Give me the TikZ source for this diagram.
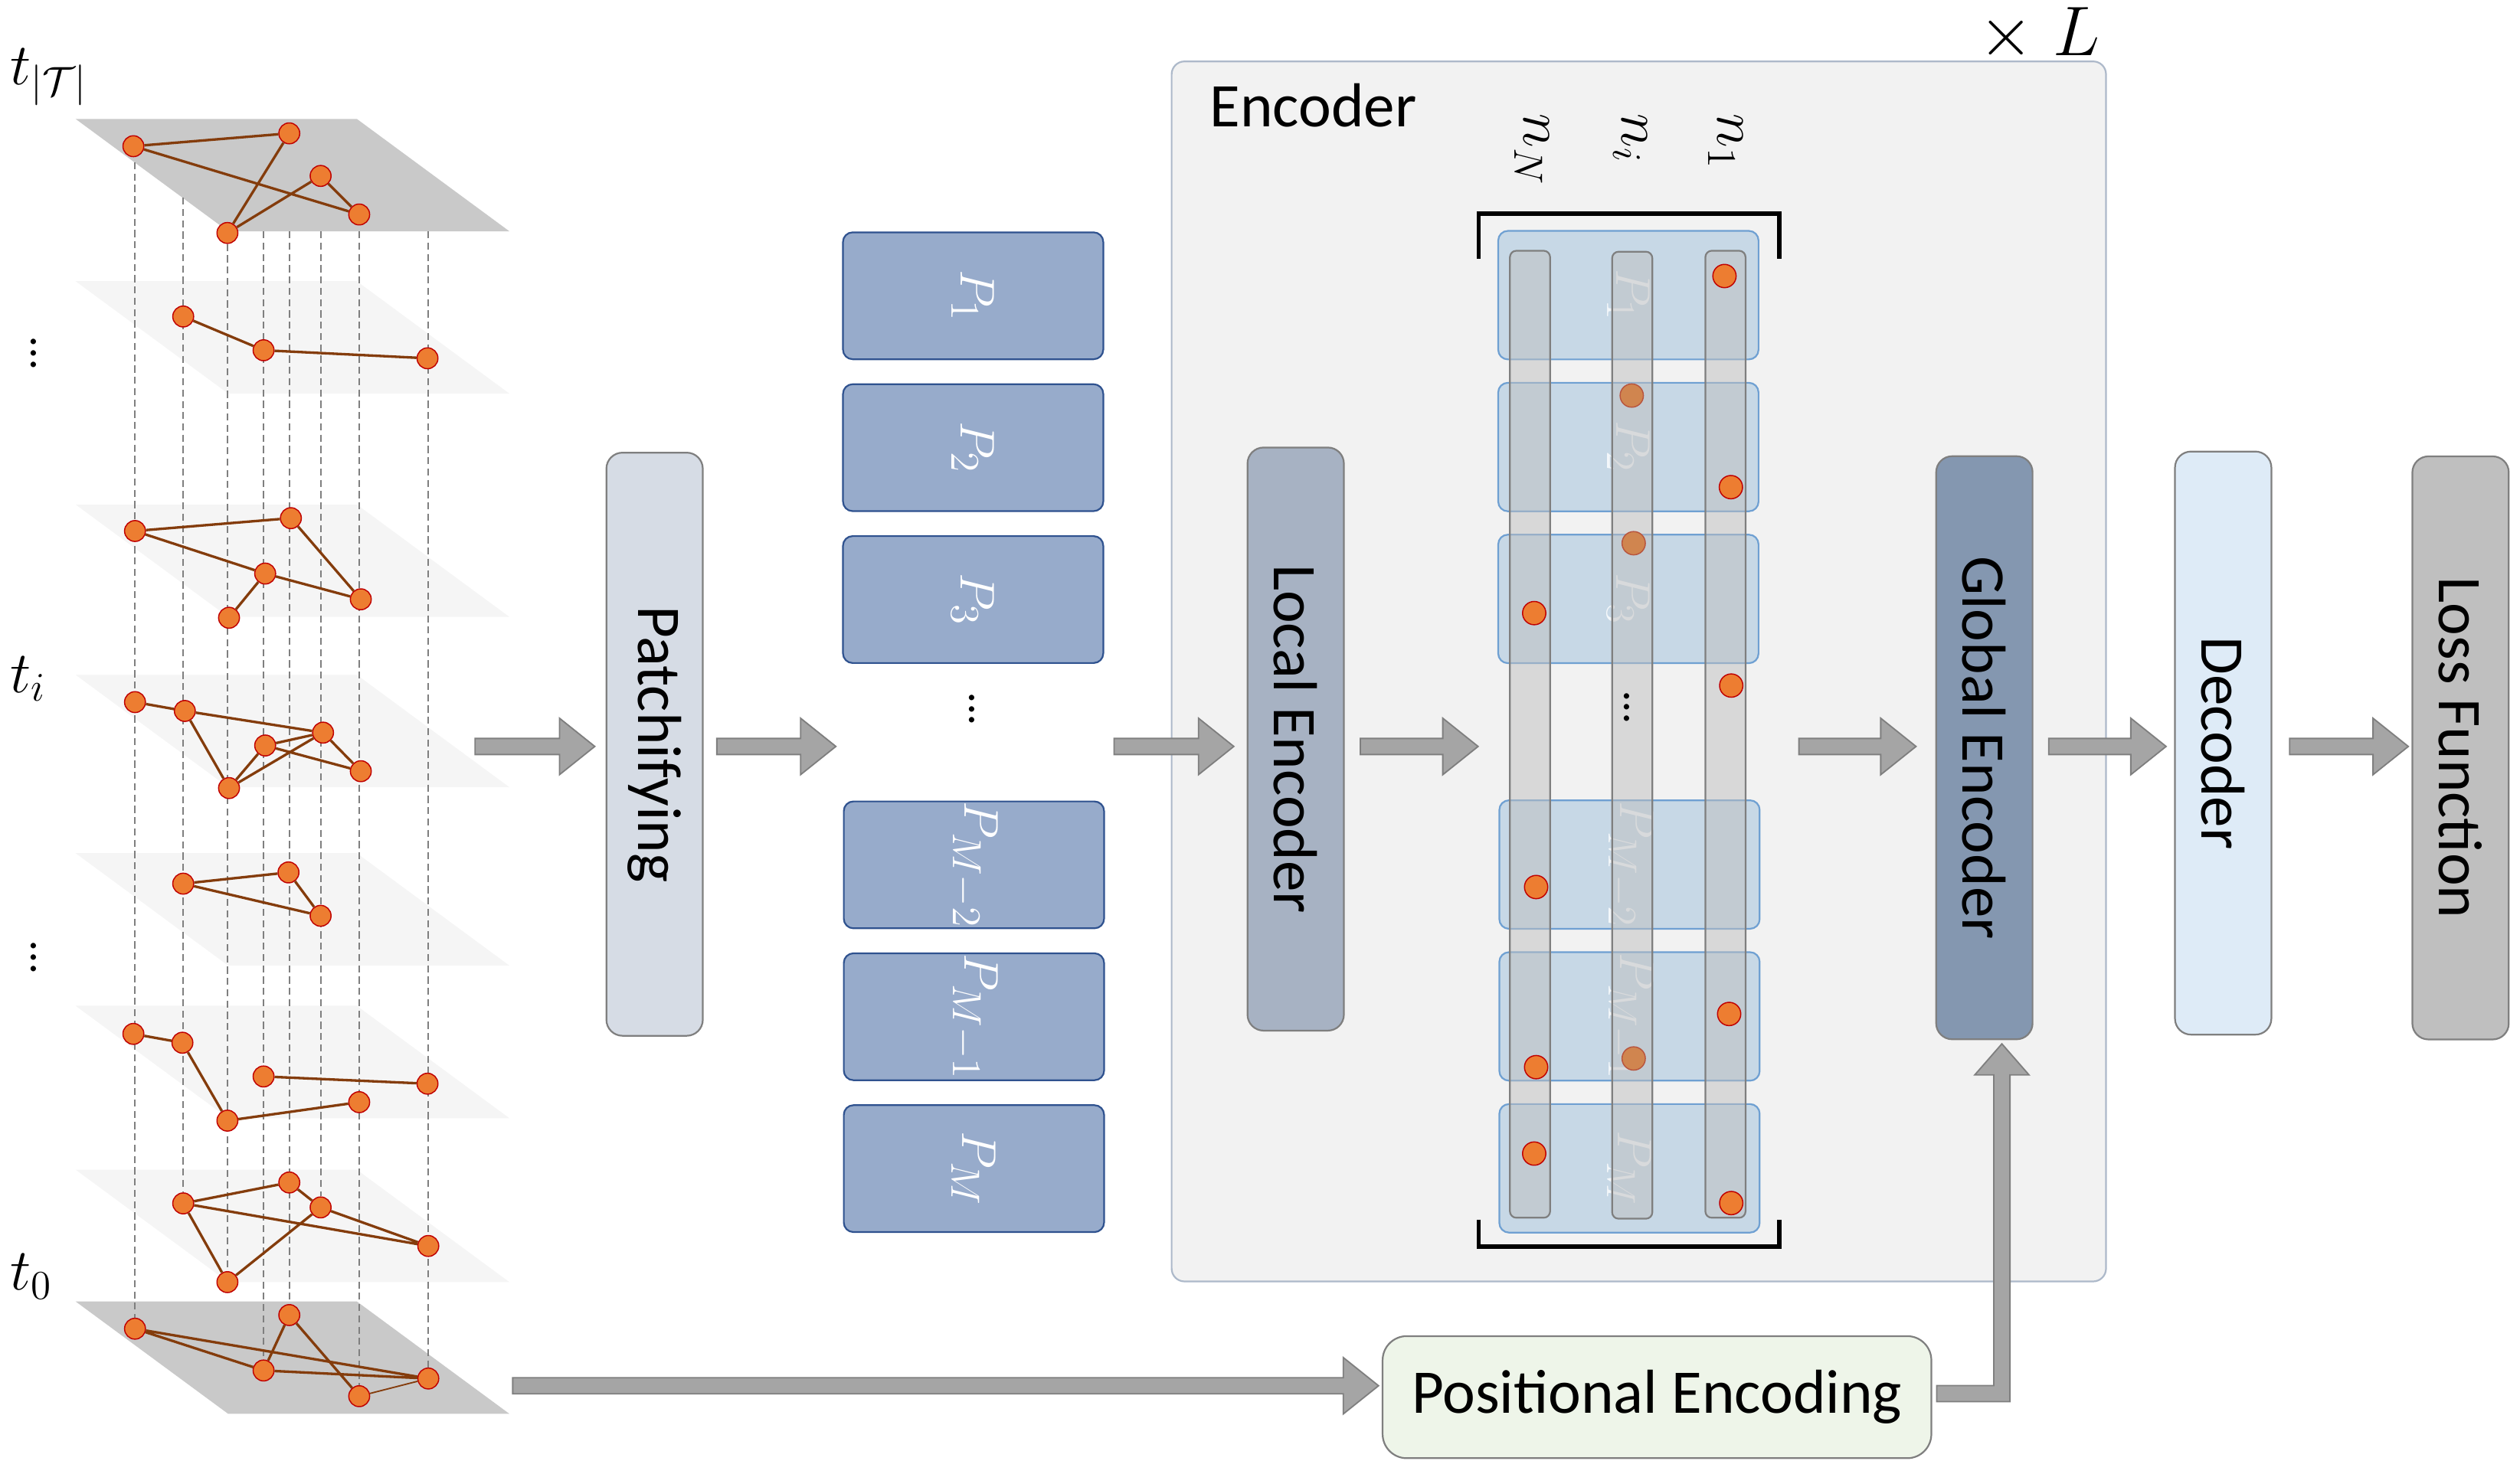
\documentclass[tikz,border=0pt]{standalone}
\usepackage{fontspec}
\setmainfont{Carlito}
\usepackage{amsmath}
\usetikzlibrary{calc,positioning}

\definecolor{vertfill}{HTML}{ED7D31}
\definecolor{vertline}{HTML}{C00000}
\definecolor{linkbrown}{HTML}{843C0C}
\definecolor{planedark}{HTML}{C9C9C9}
\definecolor{planelight}{HTML}{F5F5F5}
\definecolor{dropgray}{HTML}{7F7F7F}
\definecolor{stageline}{HTML}{7F7F7F}
\definecolor{patchifyfill}{HTML}{D6DCE5}
\definecolor{patchfill}{HTML}{97ABCB}
\definecolor{patchline}{HTML}{2F528F}
\definecolor{localfill}{HTML}{A7B2C3}
\definecolor{globalfill}{HTML}{8497B0}
\definecolor{decfill}{HTML}{DEEBF7}
\definecolor{lossfill}{HTML}{BFBFBF}
\definecolor{posfill}{HTML}{EEF5E9}
\definecolor{encfill}{HTML}{F2F2F2}
\definecolor{encline}{HTML}{ADB9CA}
\definecolor{tokenfill}{HTML}{C7D8E6}
\definecolor{tokenline}{HTML}{6FA0D2}
\definecolor{mutedfill}{HTML}{D0854F}
\definecolor{mutedline}{HTML}{B8553E}
\definecolor{arrowfill}{HTML}{A5A5A5}
\definecolor{arrowline}{HTML}{7F7F7F}

\tikzstyle{vert} = [circle, draw=vertline, fill=vertfill, line width=0.4pt, inner sep=0pt, minimum size=0.26cm]
\tikzstyle{link} = [draw=linkbrown, line width=0.9pt]
\tikzstyle{dropline} = [draw=dropgray, dash pattern=on 2.5pt off 1.5pt, line width=0.5pt]
\tikzstyle{tlabel} = [inner sep=0pt, font=\fontsize{20}{24}\selectfont]
\tikzstyle{stage} = [rectangle, draw=stageline, line width=0.6pt, rounded corners=0.2cm, minimum width=1.2cm, minimum height=7.26cm, inner sep=0pt, font=\fontsize{22}{26}\selectfont]
\tikzstyle{patch} = [rectangle, draw=patchline, fill=patchfill, line width=0.6pt, rounded corners=0.12cm, minimum width=3.24cm, minimum height=1.58cm, inner sep=0pt, text=white, font=\fontsize{19}{22}\selectfont]
\tikzstyle{token} = [rectangle, draw=tokenline, fill=tokenfill, line width=0.6pt, rounded corners=0.12cm, minimum width=3.24cm, minimum height=1.6cm, inner sep=0pt, text=white, text opacity=0.8, font=\fontsize{19}{22}\selectfont]
\tikzstyle{nodecol} = [rectangle, draw=stageline, fill=lossfill, fill opacity=0.5, line width=0.6pt, rounded corners=0.08cm, minimum width=0.5cm, minimum height=12.04cm, inner sep=0pt]
\tikzstyle{tokdot} = [circle, draw=vertline, fill=vertfill, line width=0.4pt, inner sep=0pt, minimum size=0.29cm]
\tikzstyle{mutedot} = [tokdot, draw=mutedline, fill=mutedfill]
\tikzstyle{bigarrow} = [fill=arrowfill, draw=arrowline, line width=0.5pt]
\tikzstyle{bracket} = [draw=black, line width=1.5pt]
\tikzstyle{dots} = [inner sep=0pt, font=\fontsize{16}{18}\selectfont]

% horizontal block arrow from #1 to the tip #2
\newcommand{\blockarrow}[2]{%
  \filldraw[bigarrow] let \p1=#1, \p2=#2 in
    (\x1,\y1+2.85pt) -- (\x2-12.5pt,\y1+2.85pt) -- (\x2-12.5pt,\y1+10pt)
    -- (\x2,\y1) -- (\x2-12.5pt,\y1-10pt) -- (\x2-12.5pt,\y1-2.85pt)
    -- (\x1,\y1-2.85pt) -- cycle;}

\pgfdeclarelayer{bg}
\pgfdeclarelayer{guide}
\pgfsetlayers{bg,guide,main}

\begin{document}
\begin{tikzpicture}[x=0.02cm, y=-0.02cm]
\useasboundingbox (0,0) rectangle (1568,909);

% snapshots
\begin{pgfonlayer}{bg}
\fill[planedark] (47,74) -- ++(175,0) -- ++(95,70) -- ++(-175,0) -- cycle;
\fill[planelight] (47,175) -- ++(175,0) -- ++(95,70) -- ++(-175,0) -- cycle;
\fill[planelight] (47,314) -- ++(175,0) -- ++(95,70) -- ++(-175,0) -- cycle;
\fill[planelight] (47,420) -- ++(175,0) -- ++(95,70) -- ++(-175,0) -- cycle;
\fill[planelight] (47,531) -- ++(175,0) -- ++(95,70) -- ++(-175,0) -- cycle;
\fill[planelight] (47,626) -- ++(175,0) -- ++(95,70) -- ++(-175,0) -- cycle;
\fill[planelight] (47,728) -- ++(175,0) -- ++(95,70) -- ++(-175,0) -- cycle;
\fill[planedark] (47,810) -- ++(175,0) -- ++(95,70) -- ++(-175,0) -- cycle;
\end{pgfonlayer}

\node[tlabel, anchor=base west] (ttop) at (6,52.7) {$t_{|\mathcal{T}|}$};
\node[tlabel, anchor=base west] (ti) at (6,431) {$t_i$};
\node[tlabel, anchor=base west] (tzero) at (6,803) {$t_0$};
\node[dots] (vdotsa) at (21,214.7) {$\vdots$};
\node[dots] (vdotsb) at (21,590.7) {$\vdots$};

\node[vert] (g1a) at (83,91) {};
\node[vert] (g1b) at (180,83) {};
\node[vert] (g1c) at (199.5,109.5) {};
\node[vert] (g1d) at (223.5,133.5) {};
\node[vert] (g1e) at (141.5,145) {};
\path[link] (g1a) -- (g1b) (g1a) -- (g1d) (g1b) -- (g1e) (g1e) -- (g1c) (g1c) -- (g1d);

\node[vert] (g2a) at (114,197) {};
\node[vert] (g2b) at (164,218) {};
\node[vert] (g2c) at (266,223) {};
\path[link] (g2a) -- (g2b) (g2b) -- (g2c);

\node[vert] (g3a) at (84,330.5) {};
\node[vert] (g3b) at (181,322.5) {};
\node[vert] (g3c) at (165,357) {};
\node[vert] (g3d) at (142.5,384.5) {};
\node[vert] (g3e) at (224.5,373) {};
\path[link] (g3a) -- (g3b) (g3a) -- (g3c) (g3b) -- (g3e) (g3c) -- (g3e) (g3c) -- (g3d);

\node[vert] (g4a) at (84,437) {};
\node[vert] (g4b) at (115,442.5) {};
\node[vert] (g4c) at (201,456) {};
\node[vert] (g4d) at (165,464) {};
\node[vert] (g4e) at (224.5,480) {};
\node[vert] (g4f) at (142.5,490.5) {};
\path[link] (g4a) -- (g4b) (g4b) -- (g4c) (g4b) -- (g4f) (g4d) -- (g4c) (g4d) -- (g4e)
  (g4c) -- (g4e) (g4f) -- (g4d) (g4f) -- (g4c);

\node[vert] (g5a) at (114,550) {};
\node[vert] (g5b) at (179.5,543) {};
\node[vert] (g5c) at (199.5,570) {};
\path[link] (g5a) -- (g5b) (g5a) -- (g5c) (g5b) -- (g5c);

\node[vert] (g6a) at (83,643.5) {};
\node[vert] (g6b) at (113.5,649) {};
\node[vert] (g6c) at (141.5,697.5) {};
\node[vert] (g6d) at (164,670) {};
\node[vert] (g6e) at (266,674.5) {};
\node[vert] (g6f) at (223.5,686) {};
\path[link] (g6a) -- (g6b) (g6b) -- (g6c) (g6c) -- (g6f) (g6d) -- (g6e);

\node[vert] (g7a) at (114,749) {};
\node[vert] (g7b) at (180,736) {};
\node[vert] (g7c) at (199.5,751.5) {};
\node[vert] (g7d) at (266.5,775.5) {};
\node[vert] (g7e) at (141.5,798) {};
\path[link] (g7a) -- (g7b) (g7b) -- (g7c) (g7a) -- (g7d) (g7c) -- (g7d) (g7a) -- (g7e) (g7e) -- (g7c);

\node[vert] (g8a) at (84,827) {};
\node[vert] (g8b) at (180,818.5) {};
\node[vert] (g8c) at (164,853) {};
\node[vert] (g8d) at (223.5,869) {};
\node[vert] (g8e) at (266.5,858) {};
\path[link] (g8a) -- (g8c) (g8a) -- (g8e) (g8c) -- (g8b) (g8b) -- (g8d) (g8c) -- (g8e);
\path[link, line width=0.5pt] (g8d) -- (g8e);

% drop lines through the snapshots
\coordinate (topedge) at (0,144);
\begin{pgfonlayer}{guide}
\draw[dropline] (84,101) -- (g8a);
\draw[dropline] (114,123) -- (g7a);
\draw[dropline] (g1e) -- (g7e);
\draw[dropline] (g8c |- topedge) -- (g8c);
\draw[dropline] (g8b |- topedge) -- (g8b);
\draw[dropline] (g7c |- topedge) -- (g7c);
\draw[dropline] (g8d |- topedge) -- (g8d);
\draw[dropline] (g8e |- topedge) -- (g8e);
\end{pgfonlayer}

% patches
\node[stage, fill=patchifyfill] (patchify) at (407.3,463.2) {\rotatebox{-90}{Patchifying}};
\node[patch] (p1) at (605.5,184.1) {\rotatebox{-90}{$P_1$}};
\node[patch, below=0.29cm of p1] (p2) {\rotatebox{-90}{$P_2$}};
\node[patch, below=0.29cm of p2] (p3) {\rotatebox{-90}{$P_3$}};
\node[dots] (pdots) at (604.6,436) {$\vdots$};
\node[patch] (pm2) at (606,538.3) {\rotatebox{-90}{$P_{M-2}$}};
\node[patch, below=0.29cm of pm2] (pm1) {\rotatebox{-90}{$P_{M-1}$}};
\node[patch, below=0.29cm of pm1] (pm) {\rotatebox{-90}{$P_M$}};

% encoder
\node[draw=encline, fill=encfill, line width=0.6pt, rounded corners=0.16cm, minimum width=11.63cm, minimum height=15.19cm] (encbox) at (1019.7,417.9) {};
\node[anchor=base west, inner sep=0pt, font=\fontsize{22}{26}\selectfont] (enclabel) at (752.5,78.7) {Encoder};
\node[anchor=base east, inner sep=0pt, font=\fontsize{26}{30}\selectfont] (times) at (1307,34.5) {$\times\;L$};
\node[rotate=-90, anchor=base west, inner sep=0pt, font=\fontsize{21}{24}\selectfont] (labN) at (948,70.5) {$n_N$};
\node[rotate=-90, anchor=base west, inner sep=0pt, font=\fontsize{21}{24}\selectfont] (labI) at (1009.4,70.5) {$n_i$};
\node[rotate=-90, anchor=base west, inner sep=0pt, font=\fontsize{21}{24}\selectfont] (labOne) at (1068.7,70.5) {$n_1$};

\node[stage, fill=localfill] (local) at (806.2,460) {\rotatebox{-90}{Local Encoder}};
\node[stage, fill=globalfill] (global) at (1234.7,465.4) {\rotatebox{-90}{Global Encoder}};

\node[token] (tok1) at (1013.2,183.7) {\rotatebox{-90}{$P_1$}};
\node[token, below=0.27cm of tok1] (tok2) {\rotatebox{-90}{$P_2$}};
\node[token, below=0.27cm of tok2] (tok3) {\rotatebox{-90}{$P_3$}};
\node[token] (tok4) at (1013.9,538.1) {\rotatebox{-90}{$P_{M-2}$}};
\node[token, below=0.27cm of tok4] (tok5) {\rotatebox{-90}{$P_{M-1}$}};
\node[token, below=0.27cm of tok5] (tok6) {\rotatebox{-90}{$P_M$}};

\node[nodecol] (colN) at (952,457) {};
\node[nodecol] (colI) at (1015.6,457.6) {};
\node[nodecol] (colOne) at (1073.6,457) {};

\node[tokdot] (d1) at (1073,171.8) {};
\node[mutedot] (d2) at (1015.3,246.2) {};
\node[tokdot] (d3) at (1077,303.2) {};
\node[mutedot] (d4) at (1016.5,338.1) {};
\node[tokdot] (d5) at (954.6,381.6) {};
\node[tokdot] (d6) at (1077.2,426.7) {};
\node[tokdot] (d7) at (955.8,552.1) {};
\node[tokdot] (d8) at (1075.9,631.1) {};
\node[mutedot] (d9) at (1016.5,658.8) {};
\node[tokdot] (d10) at (955.8,664.2) {};
\node[tokdot] (d11) at (954.6,718) {};
\node[tokdot] (d12) at (1077.2,748.8) {};
\node[dots] (tdots) at (1012.4,435) {$\vdots$};

\draw[bracket] (920,161) -- (920,133) -- (1107,133) -- (1107,161);
\draw[bracket] (920,759) -- (920,776) -- (1107,776) -- (1107,759);

\node[stage, fill=decfill] (decoder) at (1383.3,462.5) {\rotatebox{-90}{Decoder}};
\node[stage, fill=lossfill] (loss) at (1531,465.5) {\rotatebox{-90}{Loss Function}};
\node[draw=stageline, fill=posfill, line width=0.6pt, rounded corners=0.3cm, minimum width=6.83cm, minimum height=1.52cm, font=\fontsize{22}{26}\selectfont] (posenc) at (1031,869.6) {Positional Encoding};

% flow
\coordinate (axis) at (0,464.6);
\coordinate (stackout) at (295.6,464.6);
\coordinate (planeout) at (319,862.5);
\blockarrow{(stackout)}{($(patchify.west|-axis)+(-6.7,0)$)}
\blockarrow{($(patchify.east|-axis)+(8.2,0)$)}{($(p3.west|-axis)+(-3.9,0)$)}
\blockarrow{($(p3.east|-axis)+(6.2,0)$)}{($(local.west|-axis)+(-8,0)$)}
\blockarrow{($(local.east|-axis)+(9.7,0)$)}{($(tok3.west|-axis)+(-12,0)$)}
\blockarrow{($(tok3.east|-axis)+(24.6,0)$)}{($(global.west|-axis)+(-12,0)$)}
\blockarrow{($(global.east|-axis)+(9.5,0)$)}{($(decoder.west|-axis)+(-5,0)$)}
\blockarrow{($(decoder.east|-axis)+(10.8,0)$)}{($(loss.west|-axis)+(-2,0)$)}
\blockarrow{(planeout)}{($(posenc.west|-planeout)+(-2,0)$)}
\filldraw[bigarrow] let \p1=($(posenc.east)+(2.8,-2.2)$), \p2=($(global.south)+(10.9,2.3)$) in
  (\x1,\y1-2.85pt) -- (\x2+2.85pt,\y1-2.85pt) -- (\x2+2.85pt,\y2-11pt) -- (\x2+9.6pt,\y2-11pt)
  -- (\x2,\y2) -- (\x2-9.6pt,\y2-11pt) -- (\x2-2.85pt,\y2-11pt) -- (\x2-2.85pt,\y1+2.85pt)
  -- (\x1,\y1+2.85pt) -- cycle;
\end{tikzpicture}
\end{document}
